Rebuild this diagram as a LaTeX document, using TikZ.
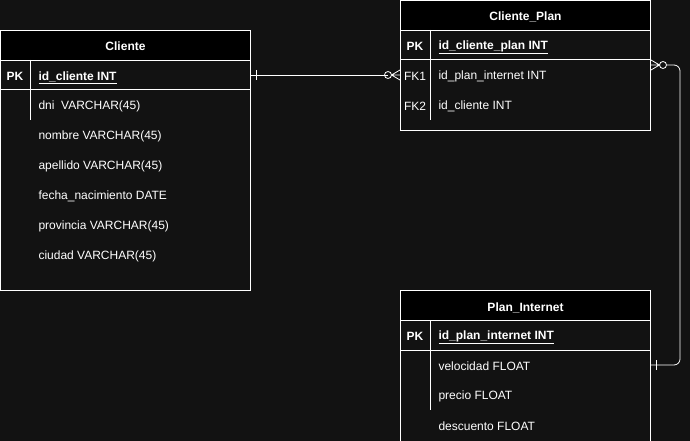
\documentclass[tikz,border=0pt]{standalone}
\usepackage{fontspec}
\setmainfont{Liberation Sans}
\usepackage{tikz}
\usetikzlibrary{positioning}
\definecolor{bg}{RGB}{18,18,18}
\newcommand{\fld}[1]{\underline{#1}}

\begin{document}
\begin{tikzpicture}[x=1pt, y=-1pt, line width=1pt,
  every node/.style={text=white, font=\fontsize{12}{14}\selectfont, inner sep=0pt},
  table/.style={draw=white, fill=bg, anchor=north west, minimum width=250pt},
  head/.style={draw=white, fill=black, anchor=north west, minimum width=250pt, minimum height=30pt, text height=11pt, text depth=0pt, font=\fontsize{12}{14}\selectfont\bfseries},
  txt/.style={yshift=-1.2pt},
  key/.style={txt, font=\fontsize{12}{14}\selectfont\bfseries},
  field/.style={txt, anchor=west},
  rel/.style={draw=white, line width=0.8pt}]

\useasboundingbox[fill=bg] (0,0) rectangle (690,441);

% Cliente
\node [table, minimum height=260pt] (cliente) at (0,30) {};
\node [head] (cliente-head) at (0,30) {Cliente};
\draw [white] (0,90) -- (250,90);
\draw [white] (30,60) -- (30,120);
\node [key] (cliente-pk) at (15,75) {PK};
\node [field, key] (cliente-1) at (38,75) {\fld{id\_cliente INT}};
\foreach \t [count=\y] in {dni\ \ VARCHAR(45), nombre VARCHAR(45), apellido VARCHAR(45),
    fecha\_nacimiento DATE, provincia VARCHAR(45), ciudad VARCHAR(45)}
  \node [field] (cliente-\y) at (38,75+30*\y) {\t};

% Cliente_Plan
\node [table, minimum height=130pt] (cp) at (400,0) {};
\node [head] (cp-head) at (400,0) {Cliente\_Plan};
\draw [white] (400,60) -- (650,60);
\draw [white] (430,30) -- (430,120);
\node [key] (cp-pk) at (415,45) {PK};
\node [field, key] (cp-0) at (438,45) {\fld{id\_cliente\_plan INT}};
\foreach \k/\t [count=\y] in {FK1/id\_plan\_internet INT, FK2/id\_cliente INT} {
  \node [txt] (cp-fk\y) at (415,45+30*\y) {\k};
  \node [field] (cp-\y) at (438,45+30*\y) {\t};
}

% Plan_Internet
\node [table, minimum height=160pt] (plan) at (400,290) {};
\node [head] (plan-head) at (400,290) {Plan\_Internet};
\draw [white] (400,350) -- (650,350);
\draw [white] (430,320) -- (430,410);
\node [key] (plan-pk) at (415,335) {PK};
\node [field, key] (plan-0) at (438,335) {\fld{id\_plan\_internet INT}};
\foreach \t [count=\y] in {velocidad FLOAT, precio FLOAT, descuento FLOAT}
  \node [field] (plan-\y) at (438,335+30*\y) {\t};

% Cliente -> Cliente_Plan
\coordinate (a) at (cliente.east |- 0,75);
\coordinate (b) at (cp.west |- 0,75);
\draw [rel] (a) -- ([xshift=-12pt]b);
\draw [rel] ([xshift=5pt]a) ++(0,-5) -- ++(0,10);
\draw [rel] ([xshift=-12pt]b) circle (3.5pt);
\draw [rel] ([xshift=-8.5pt]b) -- ([yshift=-5pt]b) ([xshift=-8.5pt]b) -- (b) ([xshift=-8.5pt]b) -- ([yshift=5pt]b);

% Cliente_Plan -> Plan_Internet
\coordinate (c) at (cp.east |- 0,65);
\coordinate (d) at (plan.east |- 0,365);
\draw [rel] ([xshift=12pt]c) circle (3.5pt);
\draw [rel] ([xshift=8.5pt]c) -- ([yshift=-5pt]c) ([xshift=8.5pt]c) -- (c) ([xshift=8.5pt]c) -- ([yshift=5pt]c);
\draw [rel, rounded corners=6pt] ([xshift=15.5pt]c) -- (680,65) -- (680,365) -- (d);
\draw [rel] ([xshift=5pt]d) ++(0,-5) -- ++(0,10);
\end{tikzpicture}
\end{document}
